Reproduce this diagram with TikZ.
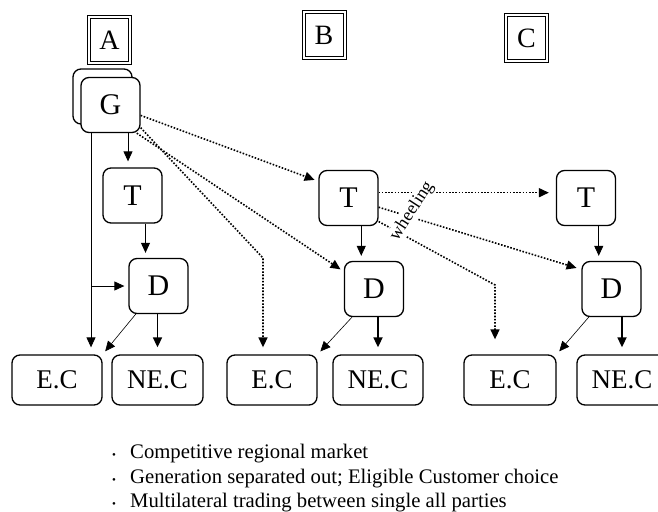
\documentclass[tikz,border=0pt]{standalone}
\usepackage{fontspec}
\setmainfont{Liberation Serif}
\usetikzlibrary{arrows.meta,calc}
\begin{document}
\begin{tikzpicture}[x=1pt,y=-1pt,
  box/.style={draw, line width=1.3pt, rounded corners=8pt, fill=white,
    minimum width=59pt, minimum height=55pt, inner sep=0pt,
    font=\fontsize{30}{30}\selectfont},
  cust/.style={box, minimum width=90pt, minimum height=50pt,
    font=\fontsize{27}{27}\selectfont},
  frame/.style={draw, double, double distance=2pt, line width=1pt,
    inner sep=0pt, minimum width=41pt, minimum height=46pt,
    font=\fontsize{28}{28}\selectfont},
  tip/.style={-{Triangle[length=10pt,width=9pt]}},
  arr/.style={tip, line width=0.9pt, shorten >=5pt},
  heavy/.style={tip, line width=1.7pt, shorten >=7pt},
  fine/.style={tip, line width=0.6pt, shorten >=4pt},
  dot/.style={tip, line width=1.6pt, dash pattern=on 1.6pt off 1.6pt},
  item/.style={anchor=base west, inner sep=0pt, font=\fontsize{20.7}{20.7}\selectfont}
]
\useasboundingbox (0,0) rectangle (658,511);
\clip (0,0) rectangle (658,511);

% market headings
\node[frame] (A) at (109.5,40) {A};
\node[frame] (B) at (324,35) {B};
\node[frame] (C) at (526.5,38.5) {C};

% generation (stacked)
\node[box] (G0) at (102.5,96.5) {};
\node[box] (G) at (110.5,105) {G};

% transmission and distribution
\node[box] (T1) at (132.5,195.5) {T};
\node[box] (D1) at (158.5,286) {D};
\node[box] (T2) at (348.5,198) {T};
\node[box] (D2) at (374,289) {D};
\node[box] (T3) at (586,198) {T};
\node[box] (D3) at (611.5,289) {D};

% customers
\node[cust] (EC1) at (57,380) {E.C};
\node[cust, minimum width=91pt] (NC1) at (157.5,380) {NE.C};
\node[cust] (EC2) at (272,380) {E.C};
\node[cust] (NC2) at (378,380) {NE.C};
\node[cust, minimum width=92pt] (EC3) at (510,380) {E.C};
\node[cust] (NC3) at (622,380) {NE.C};

% helper coordinates
\coordinate (vx) at (91,0);
\coordinate (gt) at (128,0);
\coordinate (m1) at ($(T1)!.5!(D1)$);
\coordinate (m2) at ($(T2)!.5!(D2)$);
\coordinate (m3) at ($(T3)!.5!(D3)$);
\coordinate (k1) at (263,258);
\coordinate (k2) at (495,285);

% market A: vertically integrated chain
\draw[arr, shorten >=7pt] (G.south -| vx) -- (EC1.north -| vx);
\draw[arr, shorten >=4pt] (vx |- D1) -- (D1.west);
\draw[arr, shorten >=6pt] (G.south -| gt) -- (T1.north -| gt);
\draw[arr] (T1.south -| m1) -- (D1.north -| m1);
\draw[fine] (D1.231) -- (EC1.north east);
\draw[heavy] (D1.south -| NC1) -- (NC1.north);

% market B
\draw[arr] (T2.south -| m2) -- (D2.north -| m2);
\draw[fine] (D2.232) -- (EC2.north east);
\draw[heavy] (D2.south -| NC2) -- (NC2.north);

% market C
\draw[arr] (T3.south -| m3) -- (D3.north -| m3);
\draw[fine] (D3.231) -- (EC3.north east);
\draw[heavy] (D3.south -| NC3) -- (NC3.north);

% competitive trading from the generator
\draw[dot, shorten >=4pt] (G.-19) -- (T2.151);
\draw[dot, shorten >=7pt] (G.-37) -- (k1) -- (k1 |- EC2.north);
\draw[dot, shorten >=4pt] (G.-47) -- (D2.150);

% wheeling across the transmission network
\draw[dot, shorten >=7pt] (T2.10) -- (T2.10 -| T3.west);
\draw[dot, shorten >=5pt] (T2.-17) -- (D3.147);
\draw[dot, shorten >=15pt] (T2.-38) -- (k2) -- (k2 |- EC3.north);
\node[rotate=57, fill=white, inner sep=1pt, font=\fontsize{18}{18}\selectfont] (wh) at (412,211) {wheeling};

% notes
\node[item] (l1) at (112,458) {\makebox[18pt][l]{\fontsize{11}{11}\selectfont\textbullet}Competitive regional market};
\node[item] (l2) at (112,483) {\makebox[18pt][l]{\fontsize{11}{11}\selectfont\textbullet}Generation separated out; Eligible Customer choice};
\node[item] (l3) at (112,507.5) {\makebox[18pt][l]{\fontsize{11}{11}\selectfont\textbullet}Multilateral trading between single all parties};
\end{tikzpicture}
\end{document}
